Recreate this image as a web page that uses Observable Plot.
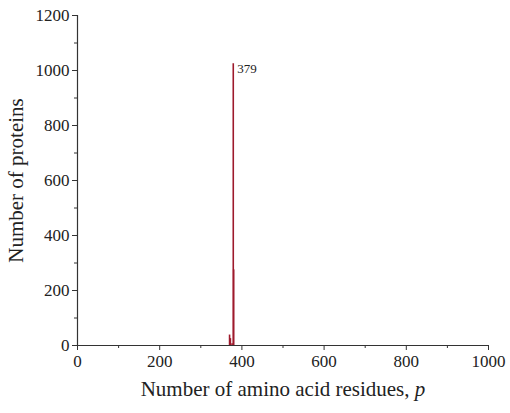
<!DOCTYPE html>
<html>
<head>
<meta charset="utf-8">
<script src="https://cdn.jsdelivr.net/npm/d3@7"></script>
<script src="https://cdn.jsdelivr.net/npm/@observablehq/plot@0.6"></script>
<style>
  html, body { margin: 0; padding: 0; background: #fff; }
  svg { display: block; }
</style>
</head>
<body>
<div id="chart"></div>
<script>
// Data
const residues = [370, 372, 376, 379, 380];
const proteins = [38, 25, 6, 1025, 275];
const peakLabel = "379";
const peakResidue = 379;
const peakCount = 1025;
const xTicks = [0, 200, 400, 600, 800, 1000];
const yTicks = [0, 200, 400, 600, 800, 1000, 1200];
const xMinor = [100, 300, 500, 700, 900];
const yMinor = [100, 300, 500, 700, 900, 1100];

const data = residues.map((r, i) => ({residue: r, count: proteins[i]}));

const font = "Liberation Serif, Times New Roman, serif";

const chart = Plot.plot({
  width: 510,
  height: 413,
  marginLeft: 77,
  marginRight: 22,
  marginTop: 15,
  marginBottom: 68,
  style: {fontFamily: font, fontSize: "17px", color: "#222", background: "#fff"},
  x: {type: "linear", domain: [0, 1000]},
  y: {type: "linear", domain: [0, 1200]},
  marks: [
    Plot.ruleX(data, {x: "residue", y1: 0, y2: "count", stroke: "#9e1a2c", strokeWidth: 1.6}),
    Plot.text([{x: peakResidue, y: peakCount, t: peakLabel}], {x: "x", y: "y", text: "t", textAnchor: "start", dx: 4, dy: 5, fontSize: 13, fill: "#222"}),
    Plot.axisX({ticks: xTicks, tickSize: 5, tickPadding: 4, tickFormat: "d", label: null, fontSize: 17, stroke: "#333"}),
    Plot.axisY({ticks: yTicks, tickSize: 5, tickPadding: 3, tickFormat: "d", label: null, fontSize: 17, stroke: "#333"}),
    Plot.axisX({ticks: xMinor, tickSize: 3, tickFormat: () => "", label: null, stroke: "#333"}),
    Plot.axisY({ticks: yMinor, tickSize: 3, tickFormat: () => "", label: null, stroke: "#333"}),
    Plot.ruleY([0], {stroke: "#333", strokeWidth: 1.2}),
    Plot.ruleX([0], {stroke: "#333", strokeWidth: 1.2}),
    Plot.axisX({ticks: [], label: "Number of amino acid residues, p", labelAnchor: "center", labelArrow: "none", labelOffset: 50, fontSize: 21}),
    Plot.axisY({ticks: [], label: "Number of proteins", labelAnchor: "center", labelArrow: "none", labelOffset: 69, fontSize: 21})
  ]
});
// italicise the variable "p" in the x-axis title
d3.select(chart).selectAll("text").each(function() {
  const t = d3.select(this);
  if (t.text() === "Number of amino acid residues, p") {
    t.text("Number of amino acid residues, ");
    t.append("tspan").attr("font-style", "italic").text("p");
  }
});
document.getElementById("chart").appendChild(chart);
</script>
</body>
</html>
